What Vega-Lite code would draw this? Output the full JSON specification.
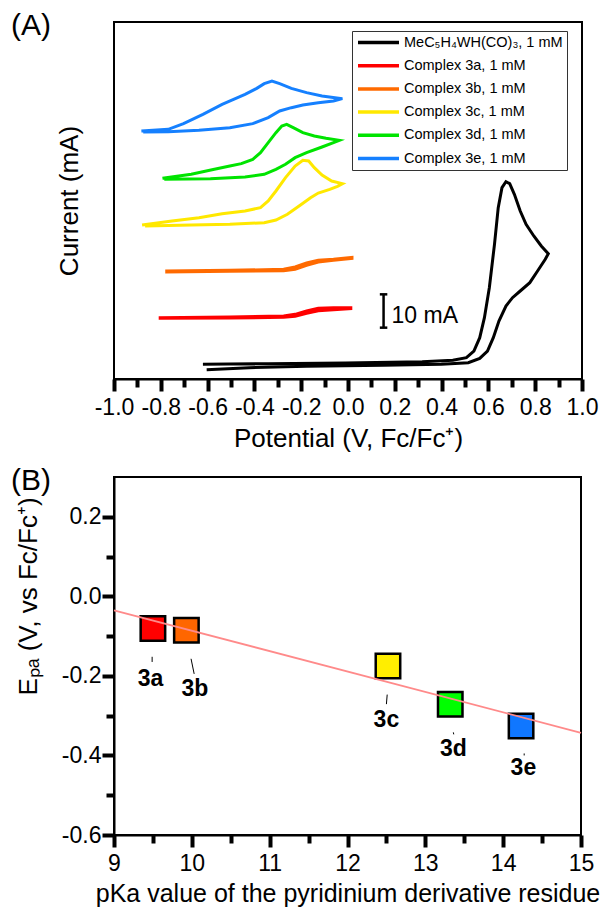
{
  "$schema": "https://vega.github.io/schema/vega-lite/v6.json",
  "background": "white",
  "padding": {"left": 10, "top": 10, "right": 5, "bottom": 5},
  "spacing": 13,
  "config": {
    "font": "Liberation Sans",
    "locale": {"number": {"decimal": ".", "thousands": ",", "grouping": [3], "currency": ["$", ""], "minus": "-"}},
    "view": {"stroke": "black", "strokeWidth": 2},
    "axis": {"domainColor": "black", "domainWidth": 2, "labelColor": "black", "titleColor": "black", "labelFontSize": 23, "titleFontSize": 26, "titleFontWeight": "normal", "grid": false, "labelFlush": false, "labelOverlap": false},
    "title": {"fontWeight": "normal", "color": "black"}
  },
  "datasets": {
    "cv": [
      {"s": "MeC₅H₄WH(CO)₃, 1 mM", "i": 0, "x": -0.620, "y": 4.4},
      {"s": "MeC₅H₄WH(CO)₃, 1 mM", "i": 1, "x": -0.341, "y": 4.6},
      {"s": "MeC₅H₄WH(CO)₃, 1 mM", "i": 2, "x": -0.012, "y": 4.8},
      {"s": "MeC₅H₄WH(CO)₃, 1 mM", "i": 3, "x": 0.317, "y": 5.2},
      {"s": "MeC₅H₄WH(CO)₃, 1 mM", "i": 4, "x": 0.448, "y": 5.6},
      {"s": "MeC₅H₄WH(CO)₃, 1 mM", "i": 5, "x": 0.506, "y": 6.4},
      {"s": "MeC₅H₄WH(CO)₃, 1 mM", "i": 6, "x": 0.538, "y": 8.4},
      {"s": "MeC₅H₄WH(CO)₃, 1 mM", "i": 7, "x": 0.563, "y": 12.4},
      {"s": "MeC₅H₄WH(CO)₃, 1 mM", "i": 8, "x": 0.583, "y": 18.4},
      {"s": "MeC₅H₄WH(CO)₃, 1 mM", "i": 9, "x": 0.604, "y": 27.4},
      {"s": "MeC₅H₄WH(CO)₃, 1 mM", "i": 10, "x": 0.626, "y": 40.4},
      {"s": "MeC₅H₄WH(CO)₃, 1 mM", "i": 11, "x": 0.642, "y": 51.4},
      {"s": "MeC₅H₄WH(CO)₃, 1 mM", "i": 12, "x": 0.658, "y": 57.4},
      {"s": "MeC₅H₄WH(CO)₃, 1 mM", "i": 13, "x": 0.675, "y": 59.2},
      {"s": "MeC₅H₄WH(CO)₃, 1 mM", "i": 14, "x": 0.691, "y": 58.6},
      {"s": "MeC₅H₄WH(CO)₃, 1 mM", "i": 15, "x": 0.711, "y": 55.4},
      {"s": "MeC₅H₄WH(CO)₃, 1 mM", "i": 16, "x": 0.736, "y": 50.4},
      {"s": "MeC₅H₄WH(CO)₃, 1 mM", "i": 17, "x": 0.761, "y": 46.4},
      {"s": "MeC₅H₄WH(CO)₃, 1 mM", "i": 18, "x": 0.794, "y": 42.9},
      {"s": "MeC₅H₄WH(CO)₃, 1 mM", "i": 19, "x": 0.826, "y": 39.9},
      {"s": "MeC₅H₄WH(CO)₃, 1 mM", "i": 20, "x": 0.856, "y": 37.6},
      {"s": "MeC₅H₄WH(CO)₃, 1 mM", "i": 21, "x": 0.843, "y": 35.9},
      {"s": "MeC₅H₄WH(CO)₃, 1 mM", "i": 22, "x": 0.810, "y": 32.4},
      {"s": "MeC₅H₄WH(CO)₃, 1 mM", "i": 23, "x": 0.777, "y": 28.9},
      {"s": "MeC₅H₄WH(CO)₃, 1 mM", "i": 24, "x": 0.736, "y": 26.4},
      {"s": "MeC₅H₄WH(CO)₃, 1 mM", "i": 25, "x": 0.703, "y": 24.4},
      {"s": "MeC₅H₄WH(CO)₃, 1 mM", "i": 26, "x": 0.675, "y": 21.9},
      {"s": "MeC₅H₄WH(CO)₃, 1 mM", "i": 27, "x": 0.645, "y": 17.4},
      {"s": "MeC₅H₄WH(CO)₃, 1 mM", "i": 28, "x": 0.621, "y": 12.4},
      {"s": "MeC₅H₄WH(CO)₃, 1 mM", "i": 29, "x": 0.596, "y": 8.4},
      {"s": "MeC₅H₄WH(CO)₃, 1 mM", "i": 30, "x": 0.563, "y": 6.2},
      {"s": "MeC₅H₄WH(CO)₃, 1 mM", "i": 31, "x": 0.514, "y": 4.9},
      {"s": "MeC₅H₄WH(CO)₃, 1 mM", "i": 32, "x": 0.399, "y": 4.4},
      {"s": "MeC₅H₄WH(CO)₃, 1 mM", "i": 33, "x": 0.152, "y": 4.1},
      {"s": "MeC₅H₄WH(CO)₃, 1 mM", "i": 34, "x": -0.177, "y": 3.8},
      {"s": "MeC₅H₄WH(CO)₃, 1 mM", "i": 35, "x": -0.423, "y": 3.4},
      {"s": "MeC₅H₄WH(CO)₃, 1 mM", "i": 36, "x": -0.604, "y": 2.8},

      {"s": "Complex 3a, 1 mM", "i": 0, "x": -0.809, "y": 18.4},
      {"s": "Complex 3a, 1 mM", "i": 1, "x": -0.505, "y": 18.6},
      {"s": "Complex 3a, 1 mM", "i": 2, "x": -0.275, "y": 18.9},
      {"s": "Complex 3a, 1 mM", "i": 3, "x": -0.226, "y": 19.4},
      {"s": "Complex 3a, 1 mM", "i": 4, "x": -0.177, "y": 20.4},
      {"s": "Complex 3a, 1 mM", "i": 5, "x": -0.127, "y": 21.2},
      {"s": "Complex 3a, 1 mM", "i": 6, "x": -0.062, "y": 21.4},
      {"s": "Complex 3a, 1 mM", "i": 7, "x": 0.012, "y": 21.4},
      {"s": "Complex 3a, 1 mM", "i": 8, "x": 0.012, "y": 21.1},
      {"s": "Complex 3a, 1 mM", "i": 9, "x": -0.062, "y": 20.8},
      {"s": "Complex 3a, 1 mM", "i": 10, "x": -0.127, "y": 20.5},
      {"s": "Complex 3a, 1 mM", "i": 11, "x": -0.177, "y": 19.7},
      {"s": "Complex 3a, 1 mM", "i": 12, "x": -0.226, "y": 18.8},
      {"s": "Complex 3a, 1 mM", "i": 13, "x": -0.275, "y": 18.5},
      {"s": "Complex 3a, 1 mM", "i": 14, "x": -0.505, "y": 18.3},
      {"s": "Complex 3a, 1 mM", "i": 15, "x": -0.809, "y": 18.2},

      {"s": "Complex 3b, 1 mM", "i": 0, "x": -0.781, "y": 32.4},
      {"s": "Complex 3b, 1 mM", "i": 1, "x": -0.505, "y": 32.6},
      {"s": "Complex 3b, 1 mM", "i": 2, "x": -0.275, "y": 32.9},
      {"s": "Complex 3b, 1 mM", "i": 3, "x": -0.226, "y": 33.6},
      {"s": "Complex 3b, 1 mM", "i": 4, "x": -0.177, "y": 34.8},
      {"s": "Complex 3b, 1 mM", "i": 5, "x": -0.127, "y": 35.6},
      {"s": "Complex 3b, 1 mM", "i": 6, "x": -0.062, "y": 35.9},
      {"s": "Complex 3b, 1 mM", "i": 7, "x": 0.017, "y": 36.5},
      {"s": "Complex 3b, 1 mM", "i": 8, "x": 0.017, "y": 36.2},
      {"s": "Complex 3b, 1 mM", "i": 9, "x": -0.062, "y": 35.6},
      {"s": "Complex 3b, 1 mM", "i": 10, "x": -0.127, "y": 35.1},
      {"s": "Complex 3b, 1 mM", "i": 11, "x": -0.177, "y": 34.1},
      {"s": "Complex 3b, 1 mM", "i": 12, "x": -0.226, "y": 32.9},
      {"s": "Complex 3b, 1 mM", "i": 13, "x": -0.275, "y": 32.5},
      {"s": "Complex 3b, 1 mM", "i": 14, "x": -0.505, "y": 32.3},
      {"s": "Complex 3b, 1 mM", "i": 15, "x": -0.781, "y": 32.1},

      {"s": "Complex 3c, 1 mM", "i": 0, "x": -0.880, "y": 46.2},
      {"s": "Complex 3c, 1 mM", "i": 1, "x": -0.752, "y": 47.4},
      {"s": "Complex 3c, 1 mM", "i": 2, "x": -0.637, "y": 48.4},
      {"s": "Complex 3c, 1 mM", "i": 3, "x": -0.538, "y": 49.6},
      {"s": "Complex 3c, 1 mM", "i": 4, "x": -0.440, "y": 50.4},
      {"s": "Complex 3c, 1 mM", "i": 5, "x": -0.374, "y": 51.4},
      {"s": "Complex 3c, 1 mM", "i": 6, "x": -0.341, "y": 53.4},
      {"s": "Complex 3c, 1 mM", "i": 7, "x": -0.308, "y": 56.4},
      {"s": "Complex 3c, 1 mM", "i": 8, "x": -0.267, "y": 60.4},
      {"s": "Complex 3c, 1 mM", "i": 9, "x": -0.226, "y": 63.9},
      {"s": "Complex 3c, 1 mM", "i": 10, "x": -0.193, "y": 65.6},
      {"s": "Complex 3c, 1 mM", "i": 11, "x": -0.168, "y": 65.4},
      {"s": "Complex 3c, 1 mM", "i": 12, "x": -0.144, "y": 63.4},
      {"s": "Complex 3c, 1 mM", "i": 13, "x": -0.111, "y": 61.2},
      {"s": "Complex 3c, 1 mM", "i": 14, "x": -0.070, "y": 59.4},
      {"s": "Complex 3c, 1 mM", "i": 15, "x": -0.024, "y": 58.6},
      {"s": "Complex 3c, 1 mM", "i": 16, "x": -0.045, "y": 57.8},
      {"s": "Complex 3c, 1 mM", "i": 17, "x": -0.078, "y": 56.9},
      {"s": "Complex 3c, 1 mM", "i": 18, "x": -0.127, "y": 55.8},
      {"s": "Complex 3c, 1 mM", "i": 19, "x": -0.160, "y": 54.4},
      {"s": "Complex 3c, 1 mM", "i": 20, "x": -0.209, "y": 51.9},
      {"s": "Complex 3c, 1 mM", "i": 21, "x": -0.259, "y": 49.4},
      {"s": "Complex 3c, 1 mM", "i": 22, "x": -0.308, "y": 47.7},
      {"s": "Complex 3c, 1 mM", "i": 23, "x": -0.358, "y": 46.9},
      {"s": "Complex 3c, 1 mM", "i": 24, "x": -0.505, "y": 46.4},
      {"s": "Complex 3c, 1 mM", "i": 25, "x": -0.670, "y": 46.2},
      {"s": "Complex 3c, 1 mM", "i": 26, "x": -0.867, "y": 45.9},

      {"s": "Complex 3d, 1 mM", "i": 0, "x": -0.793, "y": 60.2},
      {"s": "Complex 3d, 1 mM", "i": 1, "x": -0.670, "y": 61.4},
      {"s": "Complex 3d, 1 mM", "i": 2, "x": -0.571, "y": 62.9},
      {"s": "Complex 3d, 1 mM", "i": 3, "x": -0.505, "y": 63.9},
      {"s": "Complex 3d, 1 mM", "i": 4, "x": -0.456, "y": 64.6},
      {"s": "Complex 3d, 1 mM", "i": 5, "x": -0.407, "y": 65.9},
      {"s": "Complex 3d, 1 mM", "i": 6, "x": -0.374, "y": 67.9},
      {"s": "Complex 3d, 1 mM", "i": 7, "x": -0.341, "y": 70.9},
      {"s": "Complex 3d, 1 mM", "i": 8, "x": -0.308, "y": 73.9},
      {"s": "Complex 3d, 1 mM", "i": 9, "x": -0.283, "y": 75.9},
      {"s": "Complex 3d, 1 mM", "i": 10, "x": -0.262, "y": 76.4},
      {"s": "Complex 3d, 1 mM", "i": 11, "x": -0.234, "y": 75.4},
      {"s": "Complex 3d, 1 mM", "i": 12, "x": -0.193, "y": 73.9},
      {"s": "Complex 3d, 1 mM", "i": 13, "x": -0.144, "y": 72.9},
      {"s": "Complex 3d, 1 mM", "i": 14, "x": -0.094, "y": 72.2},
      {"s": "Complex 3d, 1 mM", "i": 15, "x": -0.037, "y": 71.6},
      {"s": "Complex 3d, 1 mM", "i": 16, "x": -0.062, "y": 70.9},
      {"s": "Complex 3d, 1 mM", "i": 17, "x": -0.111, "y": 69.6},
      {"s": "Complex 3d, 1 mM", "i": 18, "x": -0.177, "y": 67.9},
      {"s": "Complex 3d, 1 mM", "i": 19, "x": -0.226, "y": 66.4},
      {"s": "Complex 3d, 1 mM", "i": 20, "x": -0.267, "y": 64.4},
      {"s": "Complex 3d, 1 mM", "i": 21, "x": -0.308, "y": 62.9},
      {"s": "Complex 3d, 1 mM", "i": 22, "x": -0.358, "y": 61.4},
      {"s": "Complex 3d, 1 mM", "i": 23, "x": -0.440, "y": 60.6},
      {"s": "Complex 3d, 1 mM", "i": 24, "x": -0.588, "y": 60.1},
      {"s": "Complex 3d, 1 mM", "i": 25, "x": -0.785, "y": 59.9},

      {"s": "Complex 3e, 1 mM", "i": 0, "x": -0.883, "y": 74.4},
      {"s": "Complex 3e, 1 mM", "i": 1, "x": -0.768, "y": 74.9},
      {"s": "Complex 3e, 1 mM", "i": 2, "x": -0.703, "y": 76.6},
      {"s": "Complex 3e, 1 mM", "i": 3, "x": -0.620, "y": 79.4},
      {"s": "Complex 3e, 1 mM", "i": 4, "x": -0.538, "y": 82.4},
      {"s": "Complex 3e, 1 mM", "i": 5, "x": -0.489, "y": 83.9},
      {"s": "Complex 3e, 1 mM", "i": 6, "x": -0.440, "y": 85.4},
      {"s": "Complex 3e, 1 mM", "i": 7, "x": -0.390, "y": 87.2},
      {"s": "Complex 3e, 1 mM", "i": 8, "x": -0.358, "y": 88.6},
      {"s": "Complex 3e, 1 mM", "i": 9, "x": -0.325, "y": 89.4},
      {"s": "Complex 3e, 1 mM", "i": 10, "x": -0.292, "y": 88.6},
      {"s": "Complex 3e, 1 mM", "i": 11, "x": -0.242, "y": 87.2},
      {"s": "Complex 3e, 1 mM", "i": 12, "x": -0.177, "y": 85.9},
      {"s": "Complex 3e, 1 mM", "i": 13, "x": -0.111, "y": 84.9},
      {"s": "Complex 3e, 1 mM", "i": 14, "x": -0.024, "y": 84.1},
      {"s": "Complex 3e, 1 mM", "i": 15, "x": -0.062, "y": 83.4},
      {"s": "Complex 3e, 1 mM", "i": 16, "x": -0.127, "y": 82.9},
      {"s": "Complex 3e, 1 mM", "i": 17, "x": -0.193, "y": 82.2},
      {"s": "Complex 3e, 1 mM", "i": 18, "x": -0.242, "y": 81.4},
      {"s": "Complex 3e, 1 mM", "i": 19, "x": -0.292, "y": 80.4},
      {"s": "Complex 3e, 1 mM", "i": 20, "x": -0.341, "y": 78.4},
      {"s": "Complex 3e, 1 mM", "i": 21, "x": -0.407, "y": 76.6},
      {"s": "Complex 3e, 1 mM", "i": 22, "x": -0.505, "y": 75.4},
      {"s": "Complex 3e, 1 mM", "i": 23, "x": -0.637, "y": 74.6},
      {"s": "Complex 3e, 1 mM", "i": 24, "x": -0.768, "y": 74.2},
      {"s": "Complex 3e, 1 mM", "i": 25, "x": -0.875, "y": 74.1}
    ],
    "scalebar": [
      {"x": 0.152, "y": 15.4, "x2": 0.152, "y2": 25.4},
      {"x": 0.136, "y": 25.4, "x2": 0.168, "y2": 25.4},
      {"x": 0.136, "y": 15.4, "x2": 0.168, "y2": 15.4}
    ],
    "scaletext": [{"x": 0.186, "y": 19.0, "t": "10 mA"}],
    "pts": [
      {"label": "3a", "pka": 9.50, "epa": -0.081},
      {"label": "3b", "pka": 9.93, "epa": -0.085},
      {"label": "3c", "pka": 12.52, "epa": -0.175},
      {"label": "3d", "pka": 13.32, "epa": -0.271},
      {"label": "3e", "pka": 14.23, "epa": -0.326}
    ],
    "fit": [{"pka": 9, "epa": -0.035}, {"pka": 15, "epa": -0.343}],
    "leaders": [
      {"pka": 9.49, "epa": -0.152, "pka2": 9.49, "epa2": -0.165},
      {"pka": 9.99, "epa": -0.157, "pka2": 10.03, "epa2": -0.195},
      {"pka": 12.51, "epa": -0.247, "pka2": 12.50, "epa2": -0.271},
      {"pka": 13.36, "epa": -0.342, "pka2": 13.365, "epa2": -0.347},
      {"pka": 14.27, "epa": -0.395, "pka2": 14.27, "epa2": -0.400}
    ],
    "labels": [
      {"label": "3a", "pka": 9.47, "epa": -0.207},
      {"label": "3b", "pka": 10.04, "epa": -0.232},
      {"label": "3c", "pka": 12.50, "epa": -0.312},
      {"label": "3d", "pka": 13.36, "epa": -0.383},
      {"label": "3e", "pka": 14.26, "epa": -0.432}
    ]
  },
  "vconcat": [
    {
      "title": {"text": "(A)", "anchor": "start", "frame": "group", "fontSize": 30, "fontWeight": "normal", "dx": -103, "dy": 19, "offset": 0},
      "width": 468,
      "height": 357,
      "resolve": {"axis": {"x": "independent"}},
      "encoding": {
        "y": {"field": "y", "type": "quantitative", "scale": {"domain": [0, 107.1], "nice": false, "zero": false},
          "axis": {"title": "Current (mA)", "labels": false, "ticks": false, "domain": false, "titlePadding": 32}}
      },
      "layer": [
        {
          "data": {"name": "cv"},
          "mark": {"type": "line", "strokeWidth": 3},
          "encoding": {
            "x": {"field": "x", "type": "quantitative", "scale": {"domain": [-1, 1], "nice": false, "zero": false},
              "axis": {"title": "Potential (V, Fc/Fc⁺)", "orient": "bottom", "values": [-1, -0.8, -0.6, -0.4, -0.2, 0, 0.2, 0.4, 0.6, 0.8, 1], "format": ".1f", "ticks": true, "tickColor": "#000000", "tickWidth": 4, "tickSize": 12, "tickOpacity": 1, "labelPadding": 5, "titlePadding": 6}},
            "order": {"field": "i", "type": "quantitative"},
            "color": {"field": "s", "type": "nominal",
              "scale": {"domain": ["MeC₅H₄WH(CO)₃, 1 mM", "Complex 3a, 1 mM", "Complex 3b, 1 mM", "Complex 3c, 1 mM", "Complex 3d, 1 mM", "Complex 3e, 1 mM"],
                "range": ["#000000", "#ff0000", "#ff6a00", "#ffe800", "#00e400", "#1580ff"]},
              "legend": {"title": null, "orient": "none", "legendX": 238, "legendY": 9, "symbolType": "stroke", "symbolSize": 1681, "symbolStrokeWidth": 3.5, "labelFontSize": 14.5, "labelColor": "black", "labelLimit": 300, "labelOffset": 3, "rowPadding": 7.2, "padding": 4, "strokeColor": "#333333", "clipHeight": 15}
            }
          }
        },
        {
          "data": {"name": "scalebar"},
          "mark": {"type": "rule", "strokeWidth": 2.5, "color": "black"},
          "encoding": {
            "x": {"field": "x", "type": "quantitative", "scale": {"domain": [-1, 1], "nice": false, "zero": false},
              "axis": {"title": null, "orient": "bottom", "values": [-0.9, -0.7, -0.5, -0.3, -0.1, 0.1, 0.3, 0.5, 0.7, 0.9], "labels": false, "domain": false, "ticks": true, "tickColor": "#000000", "tickWidth": 4, "tickSize": 8, "tickOpacity": 1}},
            "x2": {"field": "x2"}, "y2": {"field": "y2"}}
        },
        {
          "data": {"name": "scaletext"},
          "mark": {"type": "text", "fontSize": 23, "align": "left", "baseline": "middle", "color": "black"},
          "encoding": {
            "x": {"field": "x", "type": "quantitative", "scale": {"domain": [-1, 1], "nice": false, "zero": false}, "axis": null},
            "text": {"field": "t"}}
        }
      ]
    },
    {
      "title": {"text": "(B)", "anchor": "start", "frame": "group", "fontSize": 30, "fontWeight": "normal", "dx": -103, "dy": 19, "offset": 0},
      "width": 467,
      "height": 358,
      "resolve": {"axis": {"x": "independent", "y": "independent"}},
      "layer": [
        {
          "data": {"name": "pts"},
          "mark": {"type": "point", "shape": "square", "filled": true, "size": 600, "stroke": "black", "strokeWidth": 2.5, "opacity": 1},
          "encoding": {
            "x": {"field": "pka", "type": "quantitative", "scale": {"domain": [9, 15], "nice": false, "zero": false},
              "axis": {"title": "pKa value of the pyridinium derivative residue", "titleFontSize": 25, "orient": "bottom", "values": [9, 10, 11, 12, 13, 14, 15], "format": "d", "ticks": true, "tickColor": "#000000", "tickWidth": 4, "tickSize": 12, "tickOpacity": 1, "labelPadding": 5, "titlePadding": 6}},
            "y": {"field": "epa", "type": "quantitative", "scale": {"domain": [-0.6, 0.3], "nice": false, "zero": false},
              "axis": {"title": "Eₚₐ (V, vs Fc/Fc⁺)", "titleFontSize": 26, "titleY": 119, "orient": "left", "values": [-0.6, -0.4, -0.2, 0, 0.2], "format": ".1f", "ticks": true, "tickColor": "#000000", "tickWidth": 4, "tickSize": 12, "tickOpacity": 1, "labelPadding": 1, "titlePadding": 20}},
            "fill": {"field": "label", "type": "nominal", "scale": {"domain": ["3a", "3b", "3c", "3d", "3e"], "range": ["#ff0000", "#ff6600", "#ffee00", "#00ff00", "#1077ff"]}, "legend": null}
          }
        },
        {
          "data": {"name": "fit"},
          "mark": {"type": "line", "color": "#ff8a8a", "strokeWidth": 1.8},
          "encoding": {
            "x": {"field": "pka", "type": "quantitative", "scale": {"domain": [9, 15], "nice": false, "zero": false},
              "axis": {"title": null, "orient": "bottom", "values": [9.5, 10.5, 11.5, 12.5, 13.5, 14.5], "labels": false, "domain": false, "ticks": true, "tickColor": "#000000", "tickWidth": 4, "tickSize": 8, "tickOpacity": 1}},
            "y": {"field": "epa", "type": "quantitative", "scale": {"domain": [-0.6, 0.3], "nice": false, "zero": false},
              "axis": {"title": null, "orient": "left", "values": [-0.5, -0.3, -0.1, 0.1], "labels": false, "domain": false, "ticks": true, "tickColor": "#000000", "tickWidth": 4, "tickSize": 8, "tickOpacity": 1}}
          }
        },
        {
          "data": {"name": "leaders"},
          "mark": {"type": "rule", "color": "black", "strokeWidth": 1},
          "encoding": {
            "x": {"field": "pka", "type": "quantitative", "scale": {"domain": [9, 15], "nice": false, "zero": false}, "axis": null},
            "y": {"field": "epa", "type": "quantitative", "scale": {"domain": [-0.6, 0.3], "nice": false, "zero": false}, "axis": null},
            "x2": {"field": "pka2"}, "y2": {"field": "epa2"}}
        },
        {
          "data": {"name": "labels"},
          "mark": {"type": "text", "fontSize": 23, "fontWeight": "bold", "align": "center", "baseline": "middle", "color": "black"},
          "encoding": {
            "x": {"field": "pka", "type": "quantitative", "scale": {"domain": [9, 15], "nice": false, "zero": false}, "axis": null},
            "y": {"field": "epa", "type": "quantitative", "scale": {"domain": [-0.6, 0.3], "nice": false, "zero": false}, "axis": null},
            "text": {"field": "label"}}
        }
      ]
    }
  ]
}
